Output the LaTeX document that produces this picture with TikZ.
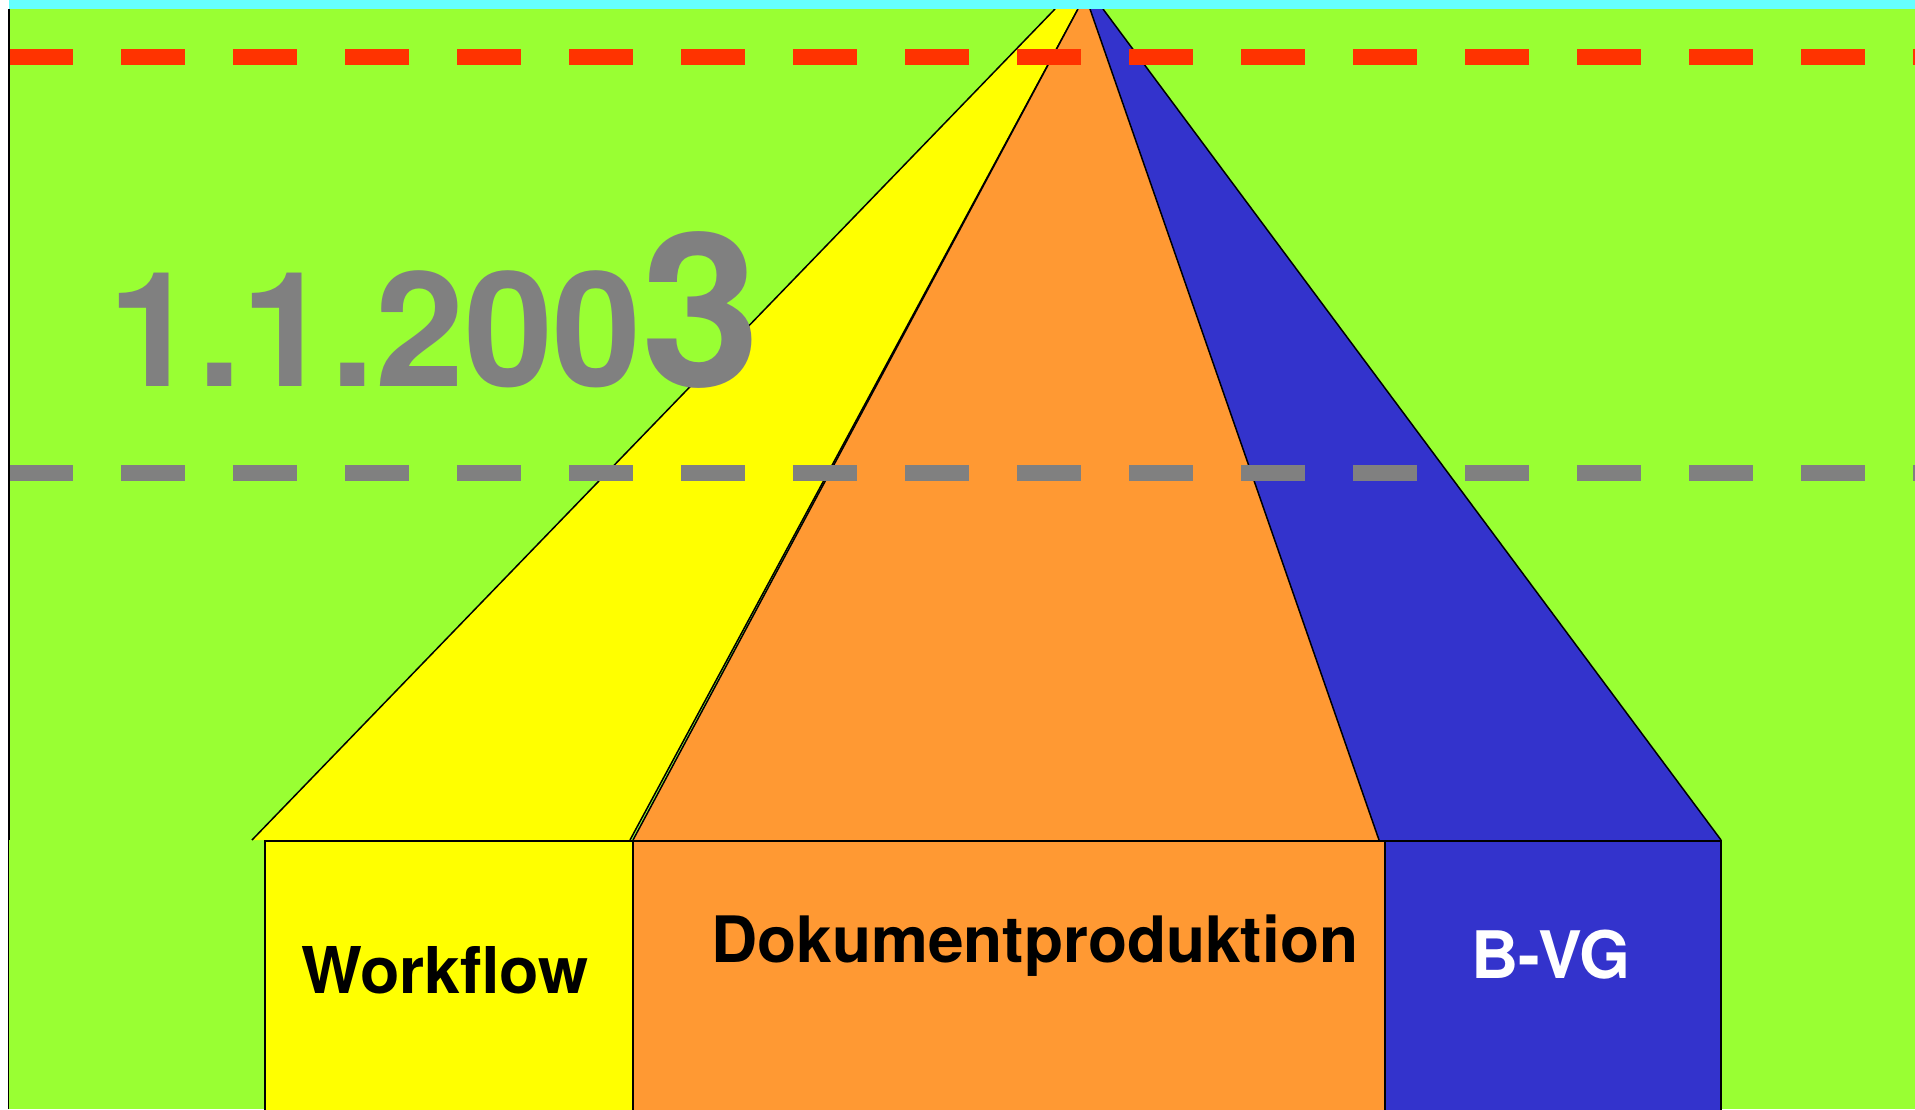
\documentclass[tikz,border=0pt]{standalone}
\usepackage{fontspec}
\setmainfont{TeX Gyre Heros}
\definecolor{bggreen}{HTML}{99FF33}
\definecolor{topcyan}{HTML}{66FFFF}
\definecolor{wfyellow}{HTML}{FFFF00}
\definecolor{dporange}{HTML}{FF9933}
\definecolor{bvgblue}{HTML}{3333CC}
\definecolor{dashred}{HTML}{FF3300}
\definecolor{dashgray}{HTML}{808080}
\tikzset{
  edge/.style={draw=black, line width=1.5pt, line join=round},
  boxframe/.style={draw=black, line width=2pt},
  dashline/.style={line width=16pt, dash pattern=on 64pt off 48pt, line cap=butt},
  lbl/.style={anchor=base west, inner sep=0pt, font=\bfseries\fontsize{64}{64}\selectfont},
  lblb/.style={anchor=base west, inner sep=0pt, font=\bfseries\fontsize{65.5}{65.5}\selectfont}
}
\begin{document}
\begin{tikzpicture}[x=1pt,y=-1pt]
\useasboundingbox (0,0) rectangle (1915,1109);
\clip (0,0) rectangle (1915,1109);
\fill[white] (0,0) rectangle (1915,1109);
\fill[bggreen] (9,9) rectangle (1915,1109);
% funnel segments
\fill[wfyellow] (1055,9) -- (1078,9) -- (630,840) -- (252,840) -- cycle;
\draw[edge] (1055,9) -- (252,840);
\draw[edge] (1078,9) -- (630,840);
\fill[dporange] (1078,9) -- (1090,9) -- (1379,840) -- (633,840) -- cycle;
\draw[edge] (1078,9) -- (633,840);
\fill[bvgblue] (1090,9) -- (1103,9) -- (1721,840) -- (1379,840) -- cycle;
\draw[edge] (1090,9) -- (1379,840);
\draw[edge] (1103,9) -- (1721,840);
% boxes
\filldraw[boxframe, fill=wfyellow] (265,841) rectangle (633,1120);
\filldraw[boxframe, fill=dporange] (633,841) rectangle (1385,1120);
\filldraw[boxframe, fill=bvgblue] (1385,841) rectangle (1721,1120);
% dashed lines
\draw[dashline, dashred] (9,57) -- (1915,57);
\draw[dashline, dashgray] (9,473) -- (1915,473);
% left border and top strip
\draw[black, line width=2pt] (9,9) -- (9,840);
\draw[black, line width=1pt] (8.5,840) -- (8.5,1109);
\fill[topcyan] (9,0) rectangle (1915,9);
% texts
\node[anchor=base west, inner sep=0pt, text=dashgray, font=\bfseries] (date) at (108,386)
  {\fontsize{160}{160}\selectfont 1.1.200\fontsize{214}{214}\selectfont 3};
\node[anchor=base west, inner sep=0pt, font=\bfseries\fontsize{64.5}{64.5}\selectfont] (wf) at (301,993) {Workflow};
\node[lbl] (dp) at (711,962) {Dokumentproduktion};
\node[lblb, text=white] (bvg) at (1471,978) {B-VG};
\end{tikzpicture}
\end{document}
